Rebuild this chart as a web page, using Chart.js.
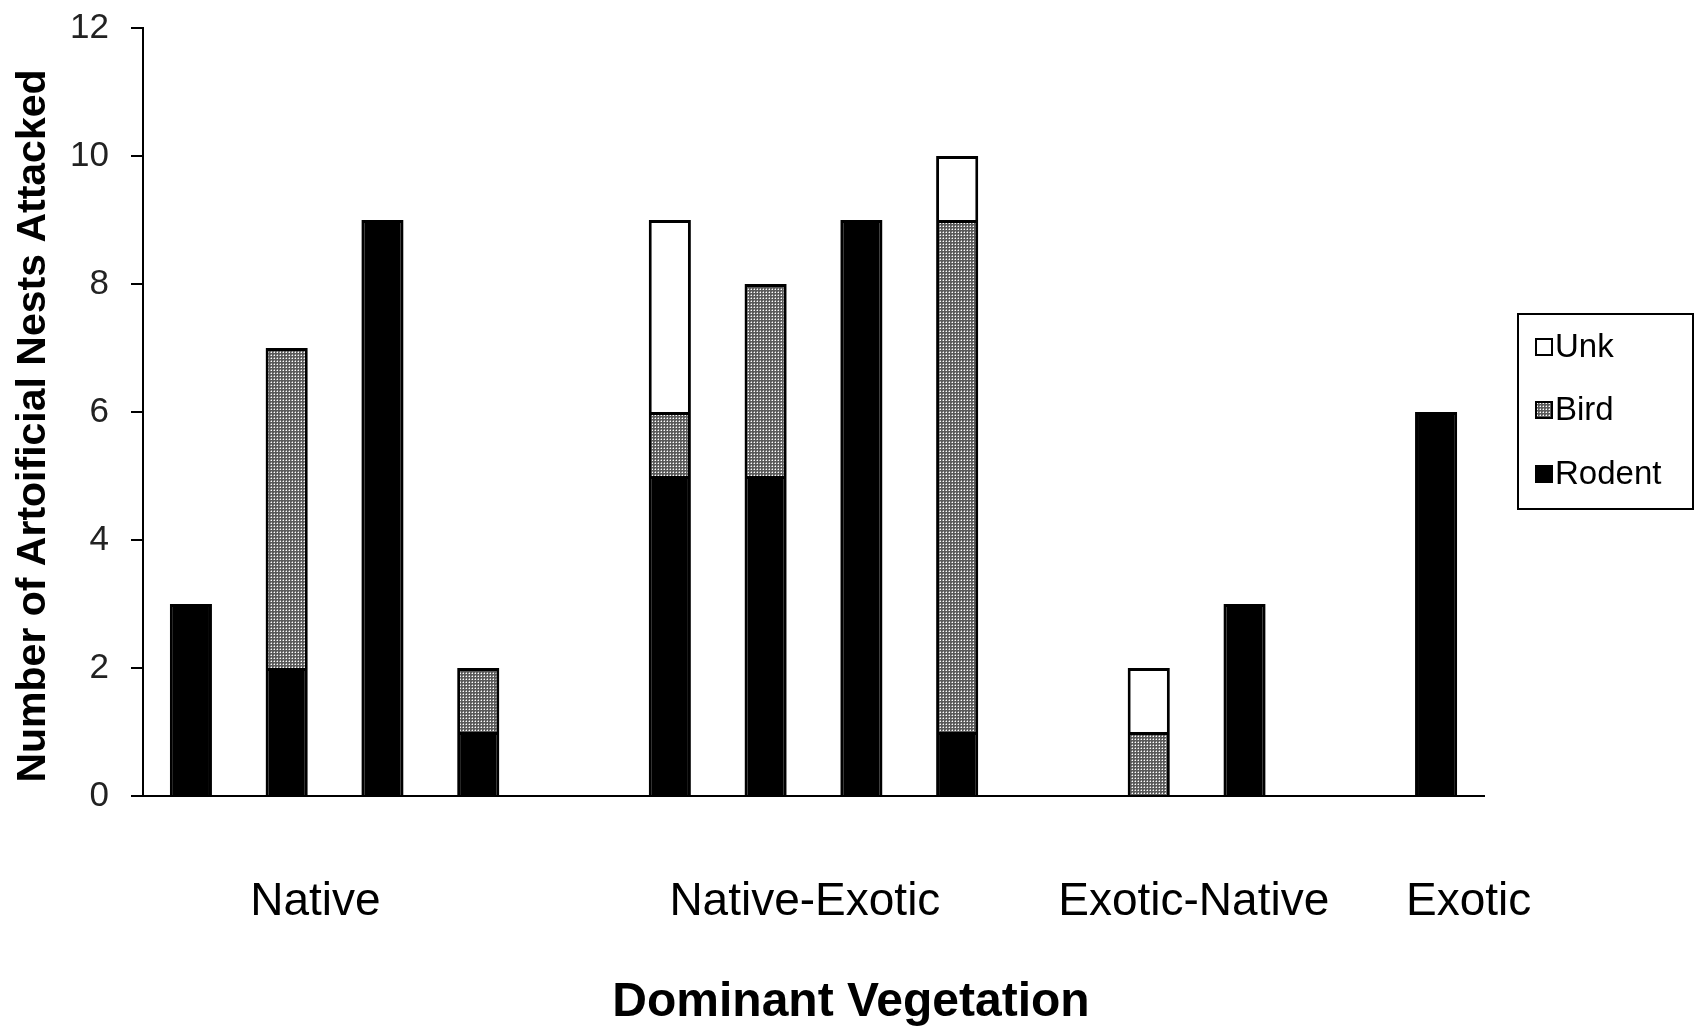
<!DOCTYPE html>
<html>
<head>
<meta charset="utf-8">
<script src="https://cdn.jsdelivr.net/npm/chart.js@4/dist/chart.umd.min.js"></script>
<style>
  html, body { margin: 0; padding: 0; background: #fff; }
  #wrap { width: 1696px; height: 1029px; }
</style>
</head>
<body>
<div id="wrap"><canvas id="nestChart" width="1696" height="1029"></canvas></div>
<script>
// one slot per site, empty slots separate the vegetation groups
const slots = ["N1", "N2", "N3", "N4", "", "NE1", "NE2", "NE3", "NE4", "", "EN1", "EN2", "", "E1"];
const rodent = [3, 2, 9, 1, null, 5, 5, 9, 1, null, null, 3, null, 6];
const bird   = [null, 5, null, 1, null, 1, 3, null, 8, null, 1, null, null, null];
const unk    = [null, null, null, null, null, 3, null, null, 1, null, 1, null, null, null];
const groupNames = ["Native", "Native-Exotic", "Exotic-Native", "Exotic"];
const yTicks = [0, 2, 4, 6, 8, 10, 12];

// where each group label sits, as a slot index (text boxes in the original)
const groupLabelAt = [1.3, 6.41, 10.47, 13.34];

// grey dotted fill for the Bird segments
function dotPattern() {
    const c = document.createElement("canvas");
    c.width = 3; c.height = 3;
    const g = c.getContext("2d");
    g.fillStyle = "#5a5a5a";
    g.fillRect(0, 0, 3, 3);
    g.fillStyle = "#ffffff";
    g.fillRect(1, 1, 1, 1);
    g.fillStyle = "#a0a0a0";
    g.fillRect(0, 1, 1, 1);
    g.fillRect(1, 0, 1, 1);
    return g.createPattern(c, "repeat");
}

const ctx = document.getElementById("nestChart").getContext("2d");
const birdFill = dotPattern();
const FONT = "'Liberation Sans', Arial, sans-serif";

const extras = {
    id: "extras",
    afterDraw(chart) {
        const c = chart.ctx;
        const x = chart.scales.x;
        c.save();
        c.fillStyle = "#000";

        // group labels
        c.font = "46px " + FONT;
        c.textAlign = "center";
        c.textBaseline = "alphabetic";
        groupNames.forEach((name, i) => {
            c.fillText(name, x.getPixelForValue(groupLabelAt[i]), 915);
        });

        // x title
        c.font = "bold 48px " + FONT;
        c.fillText("Dominant Vegetation", 851, 1016);

        // y title
        c.save();
        c.translate(45, 426);
        c.rotate(-Math.PI / 2);
        c.font = "bold 41px " + FONT;
        c.fillText("Number of Artoificial Nests Attacked", 0, 0);
        c.restore();

        // legend box
        c.lineWidth = 2;
        c.strokeStyle = "#000";
        c.strokeRect(1518, 314, 175, 195);
        const ds = chart.data.datasets.slice().reverse();
        const rows = [347, 410, 474];
        c.font = "33px " + FONT;
        c.textAlign = "left";
        c.textBaseline = "middle";
        ds.forEach((d, i) => {
            const y = rows[i];
            c.fillStyle = d.backgroundColor;
            c.fillRect(1535, y - 9, 18, 18);
            c.lineWidth = 2;
            c.strokeRect(1536, y - 8, 16, 16);
            c.fillStyle = "#000";
            c.fillText(d.label, 1555, y + 1);
        });
        c.restore();
    }
};

new Chart(ctx, {
    type: "bar",
    data: {
        labels: slots,
        datasets: [
            { label: "Rodent", data: rodent, backgroundColor: "#000000", borderColor: "#000000", borderWidth: 3 },
            { label: "Bird", data: bird, backgroundColor: birdFill, borderColor: "#000000", borderWidth: 3 },
            { label: "Unk", data: unk, backgroundColor: "#ffffff", borderColor: "#000000", borderWidth: 3 }
        ]
    },
    options: {
        responsive: false,
        animation: false,
        layout: { padding: { left: 0, right: 212, top: 28, bottom: 0 } },
        plugins: {
            legend: { display: false },
            tooltip: { enabled: false }
        },
        datasets: {
            bar: { categoryPercentage: 1, barPercentage: 0.44 }
        },
        scales: {
            x: {
                stacked: true,
                ticks: { display: false },
                grid: { display: false },
                border: { display: true, color: "#000", width: 2 },
                afterFit(s) { s.height = 233; }
            },
            y: {
                stacked: true,
                min: 0,
                max: 12,
                afterBuildTicks(s) { s.ticks = yTicks.map(v => ({ value: v })); },
                ticks: {
                    color: "#222",
                    font: { family: FONT, size: 35 },
                    padding: 22
                },
                grid: { drawOnChartArea: false, drawTicks: true, tickLength: 12, color: "#000", lineWidth: 2 },
                border: { display: true, color: "#000", width: 2 },
                afterFit(s) {
                    s.width = 143;
                    s.paddingTop = 0;
                    s.paddingBottom = 0;
                }
            }
        }
    },
    plugins: [extras]
});
</script>
</body>
</html>
